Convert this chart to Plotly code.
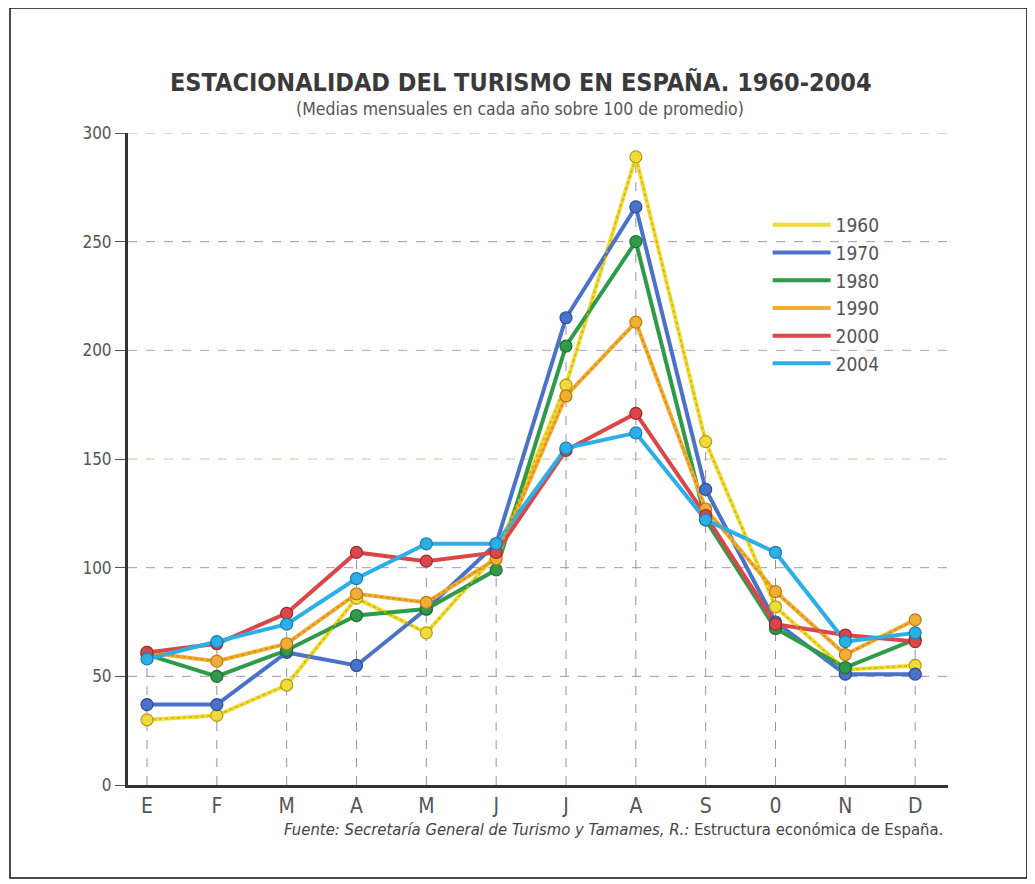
import plotly.graph_objects as go

months = ["E", "F", "M", "A", "M", "J", "J", "A", "S", "0", "N", "D"]
years = ["1960", "1970", "1980", "1990", "2000", "2004"]

v1960 = [30, 32, 46, 86, 70, 106, 184, 289, 158, 82, 53, 55]
v1970 = [37, 37, 61, 55, 81, 111, 215, 266, 136, 75, 51, 51]
v1980 = [60, 50, 62, 78, 81, 99, 202, 250, 122, 72, 54, 67]
v1990 = [61, 57, 65, 88, 84, 104, 179, 213, 127, 89, 60, 76]
v2000 = [61, 65, 79, 107, 103, 107, 154, 171, 124, 74, 69, 66]
v2004 = [58, 66, 74, 95, 111, 111, 155, 162, 122, 107, 66, 70]

y_ticks = [0, 50, 100, 150, 200, 250, 300]

series = [v1960, v1970, v1980, v1990, v2000, v2004]
colors = ["#EFDB3A", "#4A72C8", "#2F9A4A", "#F0AE34", "#D9474B", "#2CAEE6"]
edge = ["#B59A10", "#2B4C9A", "#1F6B33", "#B87A10", "#A0282C", "#1A7FB0"]
grid_colors = ["#6b8f5a", "#b48aa8", "#a99ab8", "#c8c890", "#b4a0c4", "#aa90b8", "#c4a8c8"]

x = list(range(len(months)))
FONT = "Liberation Sans Narrow, DejaVu Sans Condensed, Arial Narrow, Liberation Sans, sans-serif"

fig = go.Figure()

# lines (legend)
for name, vals, c in zip(years, series, colors):
    fig.add_trace(go.Scatter(x=x, y=vals, mode="lines", name=name,
                             line=dict(color=c, width=4)))
# dotted texture on 1960 / 1990
for vals, c in [(v1960, "#D4B400"), (v1990, "#D98A10")]:
    fig.add_trace(go.Scatter(x=x, y=vals, mode="lines", showlegend=False,
                             hoverinfo="skip",
                             line=dict(color=c, width=1.5, dash="dot")))
# markers
for name, vals, c, e in zip(years, series, colors, edge):
    fig.add_trace(go.Scatter(x=x, y=vals, mode="markers", showlegend=False,
                             name=name,
                             marker=dict(size=12, color=c,
                                         line=dict(color=e, width=1.2))))

shapes = []
# horizontal dashed grid lines
for t, gc in zip(y_ticks, grid_colors):
    if t == 0:
        continue
    shapes.append(dict(type="line", xref="paper", yref="y", x0=0, x1=1,
                       y0=t, y1=t, layer="below",
                       line=dict(color=gc, width=1, dash="dash")))
# vertical drop lines up to the highest value of each month
for i in x:
    top = max(s[i] for s in series)
    shapes.append(dict(type="line", xref="x", yref="y", x0=i, x1=i,
                       y0=0, y1=top, layer="below",
                       line=dict(color="#9a90a0", width=1, dash="dash")))
# outer frame
shapes.append(dict(type="rect", xref="paper", yref="paper",
                   x0=-0.1439, x1=1.0963, y0=-0.1426, y1=1.1917,
                   line=dict(color="#111", width=1.5)))

annotations = [
    dict(text="<b>ESTACIONALIDAD DEL TURISMO EN ESPAÑA. 1960-2004</b>",
         xref="paper", yref="paper", x=0.479, y=1.077, showarrow=False,
         xanchor="center", yanchor="middle",
         font=dict(family=FONT, size=25, color="#3a3a3a")),
    dict(text="(Medias mensuales en cada año sobre 100 de promedio)",
         xref="paper", yref="paper", x=0.478, y=1.037, showarrow=False,
         xanchor="center", yanchor="middle",
         font=dict(family=FONT, size=17.5, color="#555")),
    dict(text="<i>Fuente: Secretaría General de Turismo y Tamames, R.:</i> Estructura económica de España.",
         xref="paper", yref="paper", x=0.996, y=-0.0675, showarrow=False,
         xanchor="right", yanchor="middle",
         font=dict(family=FONT, size=16.5, color="#444")),
]

fig.update_layout(
    width=1035, height=884,
    margin=dict(l=120, r=95, t=125, b=107),
    paper_bgcolor="white", plot_bgcolor="white",
    showlegend=True,
    legend=dict(x=0.78, y=0.888, xanchor="left", yanchor="top",
                bgcolor="rgba(255,255,255,0)",
                font=dict(family=FONT, size=19, color="#555"),
                itemwidth=58, tracegroupgap=0),
    shapes=shapes, annotations=annotations,
    font=dict(family=FONT),
)
fig.update_xaxes(range=[-0.272, 11.47], tickmode="array", tickvals=x,
                 ticktext=months, showgrid=False, zeroline=False,
                 showline=True, linecolor="#333", linewidth=3,
                 ticks="", tickfont=dict(family=FONT, size=21, color="#555"))
fig.update_yaxes(range=[0, 300], tickmode="array", tickvals=y_ticks,
                 showgrid=False, zeroline=False, showline=True,
                 linecolor="#333", linewidth=3, ticks="outside", ticklen=10,
                 tickcolor="#555", tickwidth=1,
                 tickfont=dict(family=FONT, size=17, color="#555"))

fig.write_html("out.html")
